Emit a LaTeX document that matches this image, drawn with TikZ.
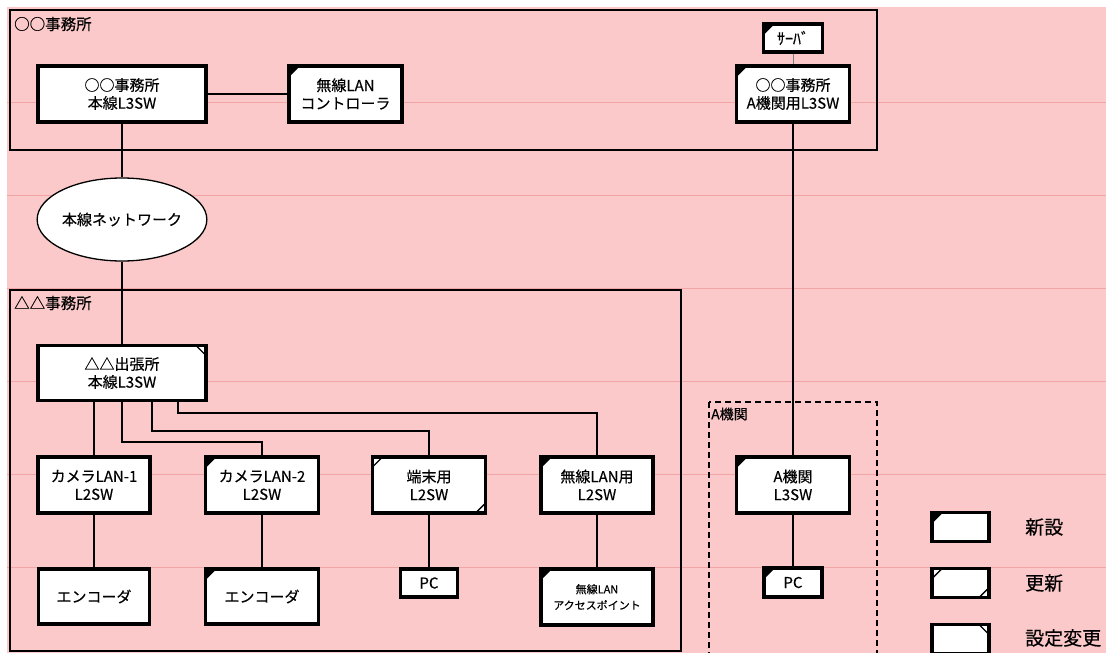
\documentclass[tikz,border=0pt]{standalone}
\usepackage{fontspec}
\setmainfont{Noto Sans CJK JP}[FakeBold=0.4]
\usetikzlibrary{shapes.geometric}
\definecolor{bgpink}{RGB}{251,201,201}
\definecolor{gridpink}{RGB}{242,165,165}
\tikzset{
 dev/.style={draw, fill=white, line width=3.2pt, inner sep=0pt, align=center, font=\fontsize{15}{18}\selectfont},
 newmark/.style={path picture={\fill[black] ([xshift=-2pt,yshift=2pt]path picture bounding box.north west) -- ([xshift=11pt]path picture bounding box.north west) -- ([yshift=-11pt]path picture bounding box.north west) -- cycle;}},
 updmark/.style={path picture={\draw[black, line width=1.4pt] ([xshift=10pt]path picture bounding box.north west) -- ([yshift=-10pt]path picture bounding box.north west); \draw[black, line width=1.4pt] ([xshift=-10pt]path picture bounding box.south east) -- ([yshift=10pt]path picture bounding box.south east);}},
 chgmark/.style={path picture={\draw[black, line width=1.4pt] ([xshift=-10pt]path picture bounding box.north east) -- ([yshift=-10pt]path picture bounding box.north east);}},
 link/.style={line width=2pt},
 office/.style={draw, line width=1.2pt},
 grouplabel/.style={anchor=west, inner sep=0pt, font=\fontsize{15.5}{17}\selectfont},
 legendlabel/.style={anchor=west, inner sep=0pt, font=\fontsize{19}{21}\selectfont},
}
\begin{document}
\begin{tikzpicture}[x=1pt,y=-1pt]
\clip (0,0) rectangle (1106,653);
\fill[white] (0,0) rectangle (1106,653);
\fill[bgpink] (7,7) rectangle (1106,653);
\foreach \yy in {102,195,288,381,474,567} {\draw[gridpink, line width=0.5pt] (7,\yy) -- (1106,\yy);}
% group boxes
\draw[office] (10,10) rectangle (877,150);
\draw[office] (10,290) rectangle (681,651);
\draw[line width=1.6pt, dash pattern=on 6pt off 4pt] (709,402) rectangle (877,670);
\node[grouplabel] (g1) at (14,24) {○○事務所};
\node[grouplabel] (g2) at (14,303) {△△事務所};
\node[grouplabel, font=\fontsize{14}{16}\selectfont] (g3) at (711,414) {A機関};
% devices
\node[dev, minimum width=168pt, minimum height=56pt] (main) at (122,94) {○○事務所\\本線L3SW};
\node[dev, newmark, minimum width=113pt, minimum height=56pt] (wlc) at (345.5,94) {無線LAN\\コントローラ};
\node[dev, newmark, minimum width=59pt, minimum height=28pt, font=\fontsize{16}{18}\selectfont] (srv) at (793,38) {ｻｰﾊﾞ};
\node[dev, newmark, minimum width=113pt, minimum height=56pt] (aoff) at (793,94) {○○事務所\\A機関用L3SW};
\node[draw, ellipse, fill=white, line width=1.3pt, minimum width=169pt, minimum height=83pt, inner sep=0pt, font=\fontsize{15}{18}\selectfont] (net) at (122,219.5) {本線ネットワーク};
\node[dev, chgmark, minimum width=168pt, minimum height=55pt] (dl3) at (122,373) {△△出張所\\本線L3SW};
\node[dev, minimum width=112pt, minimum height=56pt] (cam1) at (94,485) {カメラLAN-1\\L2SW};
\node[dev, newmark, minimum width=113pt, minimum height=56pt] (cam2) at (262,485) {カメラLAN-2\\L2SW};
\node[dev, updmark, minimum width=113pt, minimum height=56pt] (term) at (429,485) {端末用\\L2SW};
\node[dev, newmark, minimum width=112pt, minimum height=56pt] (wlsw) at (597,485) {無線LAN用\\L2SW};
\node[dev, minimum width=111pt, minimum height=55pt] (enc1) at (94,596.5) {エンコーダ};
\node[dev, newmark, minimum width=113pt, minimum height=55pt] (enc2) at (262,596.5) {エンコーダ};
\node[dev, minimum width=57pt, minimum height=28pt] (pc1) at (429,583) {PC};
\node[dev, newmark, minimum width=112pt, minimum height=56pt, font=\fontsize{11}{16}\selectfont] (ap) at (597,597) {無線LAN\\アクセスポイント};
\node[dev, newmark, minimum width=113pt, minimum height=56pt] (al3) at (793,485) {A機関\\L3SW};
\node[dev, newmark, minimum width=58pt, minimum height=29pt] (pc2) at (793,582.5) {PC};
% legend
\node[dev, newmark, minimum width=57pt, minimum height=29pt] (lg1) at (960.5,527) {};
\node[dev, updmark, minimum width=57pt, minimum height=29pt] (lg2) at (960.5,583) {};
\node[dev, chgmark, minimum width=57pt, minimum height=29pt] (lg3) at (960.5,639) {};
\node[legendlabel] (lt1) at (1025,527) {新設};
\node[legendlabel] (lt2) at (1025,583) {更新};
\node[legendlabel] (lt3) at (1025,638) {設定変更};
% connectors
\draw[link] (main) -- (wlc);
\draw[gray, line width=1pt] (srv) -- (aoff);
\draw[link] (main.south) -- (net.north);
\draw[link] (net.south) -- (dl3.north);
\draw[link] (aoff.south) -- (al3.north);
\draw[link] (cam1.north |- dl3.south) -- (cam1.north);
\draw[link] (dl3.south) -- ++(0,40) -| (cam2.north);
\draw[link] ([xshift=30pt]dl3.south) -- ++(0,29) -| (term.north);
\draw[link] ([xshift=56pt]dl3.south) -- ++(0,11) -| (wlsw.north);
\draw[link] (cam1.south) -- (cam1.south |- enc1.north);
\draw[link] (cam2.south) -- (cam2.south |- enc2.north);
\draw[link] (term.south) -- (term.south |- pc1.north);
\draw[link] (wlsw.south) -- (wlsw.south |- ap.north);
\draw[link] (al3.south) -- (al3.south |- pc2.north);
\end{tikzpicture}
\end{document}
